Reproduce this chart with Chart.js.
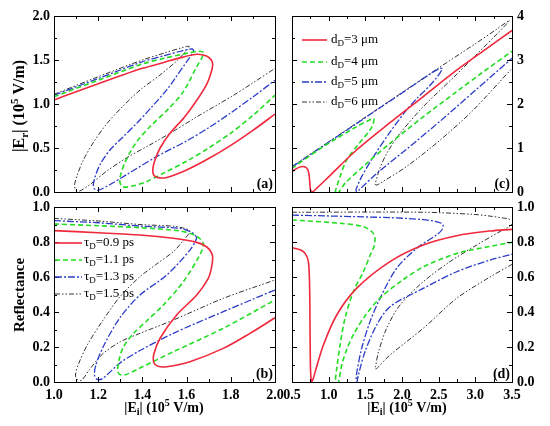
<!DOCTYPE html>
<html>
<head>
<meta charset="utf-8">
<script src="https://cdn.jsdelivr.net/npm/chart.js@4.4.1/dist/chart.umd.min.js"></script>
<style>
  html, body { margin: 0; padding: 0; background: #fff; }
  #wrap { position: relative; width: 550px; height: 426px; }
  #wrap canvas { position: absolute; left: 0; top: 0; }
</style>
</head>
<body>
<div id="wrap">
  <canvas id="chartA" width="550" height="426"></canvas>
  <canvas id="chartB" width="550" height="426"></canvas>
  <canvas id="chartC" width="550" height="426"></canvas>
  <canvas id="chartD" width="550" height="426"></canvas>
</div>
<script>
// --- Data: [|Ei|, value] ---

// (a) |Er| vs |Ei| for tau_D
const aRed = [[1.0,1.045],[1.1,1.14],[1.2,1.23],[1.3,1.32],[1.4,1.405],[1.5,1.475],[1.58,1.53],[1.646,1.565],[1.69,1.545],[1.712,1.50],[1.718,1.44],[1.71,1.35],[1.69,1.22],[1.647,1.045],[1.59,0.85],[1.525,0.667],[1.48,0.50],[1.455,0.35],[1.447,0.25],[1.452,0.19],[1.47,0.163],[1.51,0.165],[1.6,0.25],[1.7,0.38],[1.8,0.53],[1.9,0.70],[2.0,0.885]];
const aGreen = [[1.0,1.083],[1.2,1.27],[1.4,1.455],[1.5,1.52],[1.6,1.575],[1.653,1.60],[1.676,1.585],[1.668,1.52],[1.646,1.424],[1.585,1.14],[1.52,0.95],[1.434,0.742],[1.38,0.59],[1.35,0.477],[1.32,0.33],[1.302,0.20],[1.298,0.12],[1.305,0.07],[1.32,0.055],[1.36,0.07],[1.42,0.12],[1.5,0.22],[1.6,0.35],[1.7,0.50],[1.8,0.67],[1.9,0.87],[2.0,1.10]];
const aBlue = [[1.0,1.10],[1.2,1.29],[1.4,1.48],[1.5,1.55],[1.58,1.605],[1.625,1.625],[1.632,1.60],[1.60,1.48],[1.55,1.30],[1.51,1.16],[1.44,0.96],[1.374,0.78],[1.31,0.62],[1.253,0.477],[1.21,0.32],[1.186,0.174],[1.178,0.08],[1.183,0.035],[1.20,0.02],[1.25,0.08],[1.33,0.20],[1.47,0.41],[1.6,0.58],[1.7,0.73],[1.8,0.90],[1.9,1.08],[2.0,1.27]];
const aBlack = [[1.0,1.11],[1.2,1.31],[1.4,1.50],[1.5,1.58],[1.58,1.64],[1.612,1.655],[1.60,1.61],[1.56,1.50],[1.48,1.33],[1.39,1.16],[1.31,0.97],[1.24,0.78],[1.18,0.57],[1.133,0.364],[1.105,0.19],[1.093,0.08],[1.098,0.025],[1.115,0.01],[1.16,0.08],[1.24,0.24],[1.33,0.39],[1.43,0.53],[1.525,0.667],[1.65,0.86],[1.8,1.08],[1.9,1.24],[2.0,1.405]];

// (b) Reflectance vs |Ei| for tau_D
const bRed = [[1.0,0.865],[1.2,0.853],[1.389,0.84],[1.54,0.821],[1.646,0.798],[1.69,0.773],[1.712,0.74],[1.718,0.707],[1.712,0.65],[1.698,0.592],[1.646,0.497],[1.555,0.383],[1.48,0.25],[1.452,0.16],[1.452,0.11],[1.47,0.09],[1.51,0.087],[1.615,0.116],[1.766,0.192],[1.887,0.278],[2.0,0.367]];
const bGreen = [[1.0,0.903],[1.2,0.893],[1.389,0.882],[1.57,0.863],[1.635,0.84],[1.668,0.81],[1.676,0.783],[1.66,0.726],[1.585,0.573],[1.495,0.44],[1.42,0.35],[1.36,0.278],[1.314,0.20],[1.295,0.13],[1.288,0.07],[1.295,0.045],[1.32,0.04],[1.389,0.08],[1.54,0.173],[1.766,0.307],[2.0,0.469]];
const bBlue = [[1.0,0.922],[1.2,0.91],[1.389,0.891],[1.57,0.878],[1.615,0.86],[1.638,0.84],[1.645,0.821],[1.615,0.754],[1.51,0.611],[1.389,0.497],[1.30,0.37],[1.23,0.22],[1.19,0.10],[1.183,0.04],[1.195,0.015],[1.22,0.02],[1.30,0.11],[1.389,0.18],[1.54,0.278],[1.766,0.402],[2.0,0.526]];
const bBlack = [[1.0,0.935],[1.2,0.92],[1.389,0.90],[1.54,0.89],[1.59,0.878],[1.615,0.863],[1.58,0.80],[1.54,0.745],[1.46,0.67],[1.389,0.602],[1.30,0.49],[1.22,0.35],[1.15,0.21],[1.11,0.10],[1.097,0.04],[1.105,0.015],[1.125,0.01],[1.16,0.07],[1.22,0.16],[1.30,0.23],[1.389,0.278],[1.54,0.354],[1.766,0.478],[2.0,0.583]];

// (c) |Er| vs |Ei| for d_D
const cRed = [[0.5,0.46],[0.56,0.53],[0.62,0.575],[0.68,0.57],[0.715,0.51],[0.732,0.40],[0.742,0.22],[0.75,0.07],[0.76,0.01],[0.78,0.0],[0.836,0.083],[1.0,0.345],[1.38,0.955],[1.836,1.576],[2.29,2.17],[2.745,2.77],[3.13,3.23],[3.5,3.67]];
const cGreen = [[0.5,0.54],[0.927,1.03],[1.38,1.485],[1.586,1.66],[1.612,1.67],[1.618,1.636],[1.60,1.52],[1.564,1.41],[1.38,1.03],[1.245,0.727],[1.155,0.35],[1.11,0.12],[1.093,0.02],[1.10,-0.05],[1.14,0.0],[1.223,0.197],[1.518,0.65],[1.836,1.106],[2.29,1.71],[2.745,2.28],[3.1,2.72],[3.5,3.2]];
const cBlue = [[0.5,0.57],[1.0,1.13],[1.5,1.69],[2.0,2.25],[2.4,2.70],[2.52,2.81],[2.548,2.80],[2.50,2.66],[2.38,2.42],[2.2,2.12],[2.06,1.86],[1.836,1.36],[1.61,0.80],[1.45,0.35],[1.39,0.13],[1.372,0.04],[1.385,0.005],[1.41,0.04],[1.655,0.42],[2.06,0.97],[2.52,1.61],[3.0,2.31],[3.5,3.04]];
const cBlack = [[0.5,0.58],[1.0,1.14],[1.5,1.70],[2.0,2.26],[2.5,2.82],[3.0,3.37],[3.3,3.71],[3.465,3.90],[3.3,3.6],[3.0,3.1],[2.7,2.6],[2.29,1.94],[1.973,1.33],[1.80,0.90],[1.70,0.55],[1.645,0.25],[1.636,0.17],[1.66,0.16],[1.70,0.197],[2.06,0.576],[2.52,1.18],[2.97,1.86],[3.5,2.81]];

// (d) Reflectance vs |Ei| for d_D
const dRed = [[0.5,0.768],[0.6,0.757],[0.655,0.745],[0.70,0.72],[0.723,0.688],[0.735,0.62],[0.742,0.50],[0.745,0.35],[0.748,0.20],[0.752,0.08],[0.76,0.015],[0.77,0.0],[0.79,0.02],[0.814,0.055],[0.927,0.21],[1.11,0.383],[1.38,0.535],[1.836,0.688],[2.29,0.783],[2.745,0.836],[3.2,0.863],[3.5,0.872]];
const dGreen = [[0.5,0.926],[1.155,0.907],[1.473,0.888],[1.586,0.86],[1.625,0.835],[1.632,0.815],[1.62,0.775],[1.586,0.745],[1.473,0.63],[1.336,0.516],[1.223,0.364],[1.155,0.211],[1.11,0.078],[1.09,0.0],[1.10,-0.03],[1.135,0.0],[1.18,0.10],[1.25,0.19],[1.35,0.28],[1.5,0.38],[1.7,0.48],[2.0,0.58],[2.3,0.66],[2.75,0.735],[3.2,0.775],[3.5,0.798]];
const dBlue = [[0.5,0.954],[1.836,0.939],[2.29,0.928],[2.45,0.918],[2.52,0.91],[2.56,0.897],[2.545,0.87],[2.47,0.84],[2.2,0.764],[1.927,0.65],[1.7,0.478],[1.564,0.345],[1.45,0.192],[1.39,0.07],[1.375,0.02],[1.385,0.0],[1.405,0.04],[1.495,0.173],[1.655,0.326],[1.836,0.43],[2.29,0.535],[2.745,0.63],[3.2,0.697],[3.5,0.73]];
const dBlack = [[0.5,0.97],[2.29,0.97],[2.97,0.958],[3.2,0.948],[3.38,0.937],[3.45,0.932],[3.52,0.915],[3.45,0.885],[3.38,0.87],[3.02,0.783],[2.655,0.688],[2.29,0.573],[1.973,0.44],[1.79,0.307],[1.68,0.173],[1.64,0.09],[1.635,0.075],[1.66,0.078],[1.68,0.088],[1.836,0.154],[2.29,0.307],[2.745,0.478],[3.2,0.60],[3.5,0.672]];

// --- Legend values and tick labels ---
const tauLabels = ['0.9', '1.1', '1.3', '1.5'];
const dLabels = ['3', '4', '5', '6'];
const xTicksLeft = [1.0, 1.2, 1.4, 1.6, 1.8, 2.0];
const xTicksRight = [0.5, 1.0, 1.5, 2.0, 2.5, 3.0, 3.5];
const yTicksA = [0, 0.5, 1.0, 1.5, 2.0];
const yTicksC = [0, 1, 2, 3, 4];
const yTicksR = [0, 0.2, 0.4, 0.6, 0.8, 1.0];

// --- Styles ---
const FONT = '"Liberation Serif", "Times New Roman", serif';
const lineColors = ['#f0283c', '#22dd22', '#2b3bc8', '#333333'];
const lineDashes = [[], [5, 3], [7, 2, 2, 2], [5, 2, 1.5, 2, 1.5, 2]];
const lineWidths = [1.6, 1.6, 1.3, 1.0];

// draw text with sub/superscripts; parts = [[text, 'n'|'b'|'p'], ...]
function drawRich(ctx, parts, x, y, size, weight, align, rotate) {
    ctx.save();
    ctx.translate(x, y);
    if (rotate) ctx.rotate(-Math.PI / 2);
    const fontFor = k => `${weight} ${k === 'n' ? size : Math.round(size * 0.68)}px ${FONT}`;
    let w = 0;
    parts.forEach(([t, k]) => { ctx.font = fontFor(k); w += ctx.measureText(t).width; });
    let xx = align === 'center' ? -w / 2 : 0;
    ctx.fillStyle = '#000';
    ctx.textBaseline = 'alphabetic';
    ctx.textAlign = 'left';
    parts.forEach(([t, k]) => {
        ctx.font = fontFor(k);
        const dy = size * 0.34 + (k === 'b' ? size * 0.22 : k === 'p' ? -size * 0.4 : 0);
        ctx.fillText(t, xx, dy);
        xx += ctx.measureText(t).width;
    });
    ctx.restore();
}

// frame, inward ticks on all sides, legend, panel letter, titles
const panelDeco = {
    id: 'panelDeco',
    afterDatasetsDraw(chart, args, opts) {
        const { ctx, chartArea: a } = chart;
        const xs = chart.scales.x, ys = chart.scales.y;
        ctx.save();
        ctx.strokeStyle = '#000';
        ctx.lineWidth = 1;
        ctx.setLineDash([]);
        ctx.strokeRect(Math.round(a.left) + 0.5, Math.round(a.top) + 0.5,
            Math.round(a.right - a.left), Math.round(a.bottom - a.top));

        const drawTicks = (vals, major) => {
            const len = major ? 5 : 3;
            vals.forEach(v => {
                const px = Math.round(xs.getPixelForValue(v)) + 0.5;
                ctx.beginPath();
                ctx.moveTo(px, a.bottom); ctx.lineTo(px, a.bottom - len);
                ctx.moveTo(px, a.top); ctx.lineTo(px, a.top + len);
                ctx.stroke();
            });
        };
        const drawYTicks = (vals, major) => {
            const len = major ? 5 : 3;
            vals.forEach(v => {
                const py = Math.round(ys.getPixelForValue(v)) + 0.5;
                ctx.beginPath();
                ctx.moveTo(a.left, py); ctx.lineTo(a.left + len, py);
                ctx.moveTo(a.right, py); ctx.lineTo(a.right - len, py);
                ctx.stroke();
            });
        };
        const mids = arr => arr.slice(1).map((v, i) => (v + arr[i]) / 2);
        drawTicks(opts.xt, true); drawTicks(mids(opts.xt), false);
        drawYTicks(opts.yt, true); drawYTicks(mids(opts.yt), false);

        // legend
        if (opts.legend) {
            const L = opts.legend;
            chart.data.datasets.forEach((ds, i) => {
                const ly = L.rows[i];
                ctx.beginPath();
                ctx.strokeStyle = ds.borderColor;
                ctx.lineWidth = ds.borderWidth;
                ctx.setLineDash(ds.borderDash);
                ctx.moveTo(L.x0, ly); ctx.lineTo(L.x1, ly);
                ctx.stroke();
                ctx.setLineDash([]);
                drawRich(ctx, [[L.sym, 'n'], ['D', 'b'], ['=' + L.values[i] + ' ' + L.unit, 'n']],
                    L.tx, ly - 1, 13, 'normal', 'left', false);
            });
        }

        // panel letter
        ctx.fillStyle = '#000';
        ctx.font = `bold 14px ${FONT}`;
        ctx.textAlign = 'right';
        ctx.textBaseline = 'alphabetic';
        ctx.fillText(opts.letter, a.right - 2, a.bottom - 4);

        (opts.titles || []).forEach(t => drawRich(ctx, t.parts, t.x, t.y, t.size, t.weight, 'center', t.rotate));
        ctx.restore();
    }
};

function toPoints(arr) {
    return arr.map(([x, y]) => ({ x: x, y: y }));
}

function makeDatasets(series) {
    return series.map((s, i) => ({
        data: toPoints(s),
        showLine: true,
        borderColor: lineColors[i],
        borderDash: lineDashes[i],
        borderWidth: lineWidths[i],
        pointRadius: 0,
        tension: 0.3,
        fill: false
    }));
}

function makePanel(id, p) {
    const yW = p.ySide === 'left' ? 54 : 38;
    const xH = p.showX ? 44 : 0;
    const tickFont = { family: FONT, size: 14, weight: 'bold' };
    return new Chart(document.getElementById(id), {
        type: 'scatter',
        data: { datasets: makeDatasets(p.series) },
        plugins: [panelDeco],
        options: {
            responsive: false,
            animation: false,
            events: [],
            layout: {
                padding: {
                    left: p.area.l - (p.ySide === 'left' ? yW : 0),
                    right: 550 - p.area.r - (p.ySide === 'right' ? yW : 0),
                    top: p.area.t,
                    bottom: 426 - p.area.b - xH
                }
            },
            plugins: {
                legend: { display: false },
                tooltip: { enabled: false },
                panelDeco: { xt: p.xt, yt: p.yt, letter: p.letter, legend: p.legend, titles: p.titles }
            },
            scales: {
                x: {
                    type: 'linear', min: p.xt[0], max: p.xt[p.xt.length - 1],
                    grid: { display: false, drawTicks: false },
                    border: { display: false },
                    ticks: {
                        display: p.showX, autoSkip: false, maxRotation: 0, padding: 5,
                        color: '#000', font: tickFont, callback: v => v.toFixed(1)
                    },
                    afterBuildTicks: s => { s.ticks = p.xt.map(v => ({ value: v })); },
                    afterFit: s => { s.height = xH; }
                },
                y: {
                    type: 'linear', position: p.ySide, min: p.yt[0], max: p.yt[p.yt.length - 1],
                    grid: { display: false, drawTicks: false },
                    border: { display: false },
                    ticks: {
                        autoSkip: false, padding: p.ySide === 'left' ? 4 : 5,
                        color: '#000', font: tickFont, callback: p.yFmt
                    },
                    afterBuildTicks: s => { s.ticks = p.yt.map(v => ({ value: v })); },
                    afterFit: s => { s.width = yW; }
                }
            }
        }
    });
}

const fmt1 = v => v.toFixed(1);
const fmt0 = v => v.toFixed(0);

makePanel('chartA', {
    area: { l: 54, t: 16, r: 275, b: 192 }, ySide: 'left', showX: false,
    xt: xTicksLeft, yt: yTicksA, yFmt: fmt1, letter: '(a)',
    series: [aRed, aGreen, aBlue, aBlack],
    titles: [{ parts: [['|E', 'n'], ['r', 'b'], ['| (10', 'n'], ['5', 'p'], [' V/m)', 'n']],
               x: 19, y: 106, size: 16, weight: 'bold', rotate: true }]
});

makePanel('chartB', {
    area: { l: 54, t: 207, r: 275, b: 382 }, ySide: 'left', showX: true,
    xt: xTicksLeft, yt: yTicksR, yFmt: fmt1, letter: '(b)',
    series: [bRed, bGreen, bBlue, bBlack],
    legend: { sym: 'τ', values: tauLabels, unit: 'ps', x0: 55, x1: 82, tx: 84, rows: [243, 260, 277, 294] },
    titles: [
        { parts: [['Reflectance', 'n']], x: 19, y: 295, size: 15, weight: 'bold', rotate: true },
        { parts: [['|E', 'n'], ['i', 'b'], ['| (10', 'n'], ['5', 'p'], [' V/m)', 'n']],
          x: 164, y: 407, size: 14, weight: 'bold', rotate: false }
    ]
});

makePanel('chartC', {
    area: { l: 292, t: 16, r: 512, b: 192 }, ySide: 'right', showX: false,
    xt: xTicksRight, yt: yTicksC, yFmt: fmt0, letter: '(c)',
    series: [cRed, cGreen, cBlue, cBlack],
    legend: { sym: 'd', values: dLabels, unit: 'μm', x0: 302, x1: 327, tx: 331, rows: [40, 62, 82, 102] }
});

makePanel('chartD', {
    area: { l: 292, t: 207, r: 512, b: 382 }, ySide: 'right', showX: true,
    xt: xTicksRight, yt: yTicksR, yFmt: fmt1, letter: '(d)',
    series: [dRed, dGreen, dBlue, dBlack],
    titles: [{ parts: [['|E', 'n'], ['i', 'b'], ['| (10', 'n'], ['5', 'p'], [' V/m)', 'n']],
               x: 407, y: 407, size: 14, weight: 'bold', rotate: false }]
});
</script>
</body>
</html>
